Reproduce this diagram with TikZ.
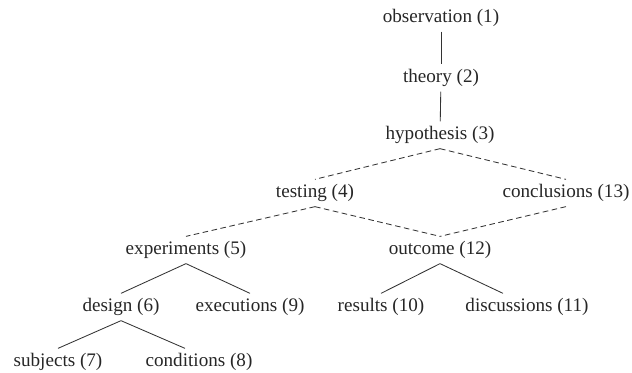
\documentclass[tikz,border=0pt]{standalone}
\usepackage{fontspec}
\setmainfont{Liberation Serif}
\usepackage{tikz}

\begin{document}
\begin{tikzpicture}[auto,
    concept/.style ={font=\fontsize{13.6}{16}\selectfont, text=black!85},
    link/.style ={line width=0.6pt, black!80},
    dashlink/.style ={line width=0.6pt, black!80, dash pattern=on 4pt off 2.5pt}]
   \useasboundingbox (0,0) rectangle (15.8,9.3);
   \node[concept] (O) at (11.025,8.85)  {observation (1)};
   \node[concept] (T) at (11.025,7.35)  {theory (2)};
   \node[concept] (H) at (11.0,5.925)   {hypothesis (3)};
   \node[concept] (Te) at (7.875,4.475) {testing (4)};
   \node[concept] (C) at (14.15,4.475)  {conclusions (13)};
   \node[concept] (E) at (4.65,3.05)    {experiments (5)};
   \node[concept] (Ou) at (11.0,3.05)   {outcome (12)};
   \node[concept] (D) at (3.025,1.625)  {design (6)};
   \node[concept] (X) at (6.25,1.625)   {executions (9)};
   \node[concept] (R) at (9.525,1.625)  {results (10)};
   \node[concept] (Di) at (13.175,1.625) {discussions (11)};
   \node[concept] (S) at (1.45,0.25)    {subjects (7)};
   \node[concept] (Co) at (4.975,0.25)  {conditions (8)};
   \draw[link] (O) to  (T);
   \draw[link] (T) to  (H);
   \draw[dashlink] (H.south) to  (Te.north);
   \draw[dashlink] (H.south) to  (C.north);
   \draw[dashlink] (Te.south) to  (E.north);
   \draw[dashlink] (Te.south) to  (Ou.north);
   \draw[dashlink] (C.south) to  (Ou.north);
   \draw[link] (E.south) to  (D.north);
   \draw[link] (E.south) to  (X.north);
   \draw[link] (Ou.south) to  (R.north);
   \draw[link] (Ou.south) to  ([xshift=-0.6cm]Di.north);
   \draw[link] (D.south) to  (S.north);
   \draw[link] (D.south) to  ([xshift=-0.35cm]Co.north);
 \end{tikzpicture}
\end{document}
